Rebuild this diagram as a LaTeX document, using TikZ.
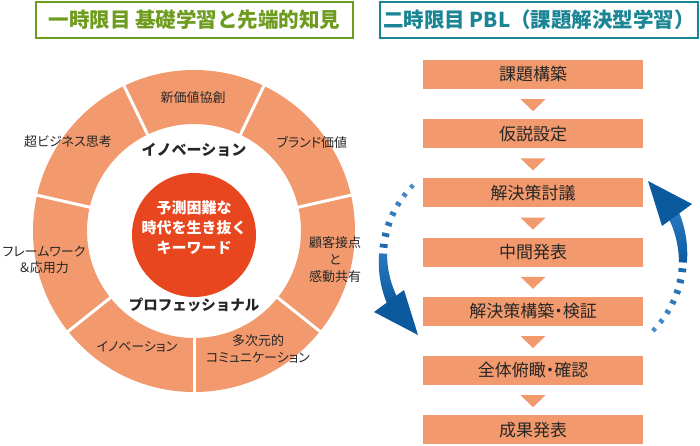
\documentclass[tikz,border=0pt]{standalone}
\usepackage{fontspec}
\setmainfont{Noto Sans CJK JP}
\newfontfamily\paltfont[RawFeature=+palt]{Noto Sans CJK JP}
\usetikzlibrary{calc}
\definecolor{salmon}{HTML}{F29A6E}
\definecolor{redc}{HTML}{E8461F}
\definecolor{txt}{HTML}{262626}
\definecolor{grn}{HTML}{6E9C1E}
\definecolor{tealc}{HTML}{1A8594}
\definecolor{blueL}{HTML}{5B9BD5}
\definecolor{blueM}{HTML}{2A78C0}
\definecolor{blueD}{HTML}{0C5A9E}
\newcommand{\cyclearrow}{%
  \foreach \j in {0,...,6}{%
    \pgfmathsetmacro\t{136+\j*6.2}%
    \pgfmathsetmacro\w{4.5+\j*0.55}%
    \pgfmathtruncatemacro\m{20+\j*10}%
    \draw[line width=3.8pt, color=blueD!\m!blueL]
      ({486+(103-\w/2)*cos(\t)},{258-(103-\w/2)*sin(\t)}) --
      ({486+(103+\w/2)*cos(\t)},{258-(103+\w/2)*sin(\t)});
  }
  \shade[top color=blueM, bottom color=blueD]
    plot[domain=177.5:205, samples=24, variable=\t]
      ({486+(103+(8+(\t-177.5)/27.5*4)/2)*cos(\t)},{258-(103+(8+(\t-177.5)/27.5*4)/2)*sin(\t)})
    -- plot[domain=205:177.5, samples=24, variable=\t]
      ({486+(103-(8+(\t-177.5)/27.5*4)/2)*cos(\t)},{258-(103-(8+(\t-177.5)/27.5*4)/2)*sin(\t)})
    -- cycle;
  \fill[blueD] (374,312) -- (418,335) -- (404,290) -- cycle;
}
\begin{document}
\begin{tikzpicture}[x=1pt,y=-1pt,
  titlebox/.style={draw, line width=1.5pt, fill=white, inner sep=0pt,
    minimum height=36pt, font=\bfseries\fontsize{20.5}{24}\selectfont},
  seglab/.style={text=txt, align=center, inner sep=0pt,
    font=\paltfont\fontsize{13}{17}\selectfont},
  boldlab/.style={text=txt, inner sep=0pt, font=\bfseries\fontsize{15}{18}\selectfont},
  stepbox/.style={fill=salmon, text=txt, minimum width=220pt, minimum height=29pt,
    inner sep=0pt, font=\paltfont\fontsize{17}{20}\selectfont}]
\useasboundingbox (0,0) rectangle (700,446);
\fill[white] (0,0) rectangle (700,446);

% titles
\node[titlebox, draw=grn, text=grn, minimum width=317pt] (t1) at (194.5,20) {一時限目 基礎学習と先端的知見};
\node[titlebox, draw=tealc, text=tealc, minimum width=318pt] (t2) at (539,20) {二時限目 PBL（課題解決型学習）};

% ring
\fill[salmon, even odd rule] (194,231) circle[radius=161] (194,231) circle[radius=107];
\foreach \k in {0,...,6}{%
  \pgfmathsetmacro\a{-90+\k*360/7}%
  \draw[white, line width=3pt] ({194+104*cos(\a)},{231-104*sin(\a)}) -- ({194+164*cos(\a)},{231-164*sin(\a)});
}
\node[circle, fill=redc, minimum size=124pt, inner sep=0pt] (core) at (194,235) {};
\node[text=white, align=center, inner sep=0pt, font=\bfseries\fontsize{15}{20}\selectfont] (kw) at (194,227.5) {予測困難な\\時代を生き抜く\\キーワード};
\node[boldlab] (inv) at (194,150) {イノベーション};
\node[boldlab, font=\bfseries\fontsize{14.5}{18}\selectfont] (pro) at (194,305) {プロフェッショナル};

\node[seglab] (s1) at (193,98) {新価値協創};
\node[seglab] (s2) at (312,142) {ブランド価値};
\node[seglab] (s3) at (335,260) {顧客接点\\と\\感動共有};
\node[seglab] (s4) at (258,348.5) {多次元的\\コミュニケーション};
\node[seglab] (s5) at (137,347) {イノベーション};
\node[seglab, font=\paltfont\fontsize{13}{16}\selectfont] (s6) at (44,260) {フレームワーク\\＆応用力};
\node[seglab] (s7) at (68,142) {超ビジネス思考};

% flow
\foreach \i/\s in {1/課題構築, 2/仮説設定, 3/解決策討議, 4/中間発表, 5/解決策構築・検証, 6/全体俯瞰・確認, 7/成果発表}{%
  \node[stepbox] (b\i) at (533,{74.5+59.2*(\i-1)}) {\s};
}
\foreach \i in {1,...,6}{%
  \fill[salmon] ($(b\i.south)+(-12.5,10)$) -- ++(25,0) -- ++(-12.5,12) -- cycle;
}

% cycle arrows
\begin{scope}
  \cyclearrow
\end{scope}
\begin{scope}[rotate around={180:(533,258)}]
  \cyclearrow
\end{scope}
\end{tikzpicture}
\end{document}
